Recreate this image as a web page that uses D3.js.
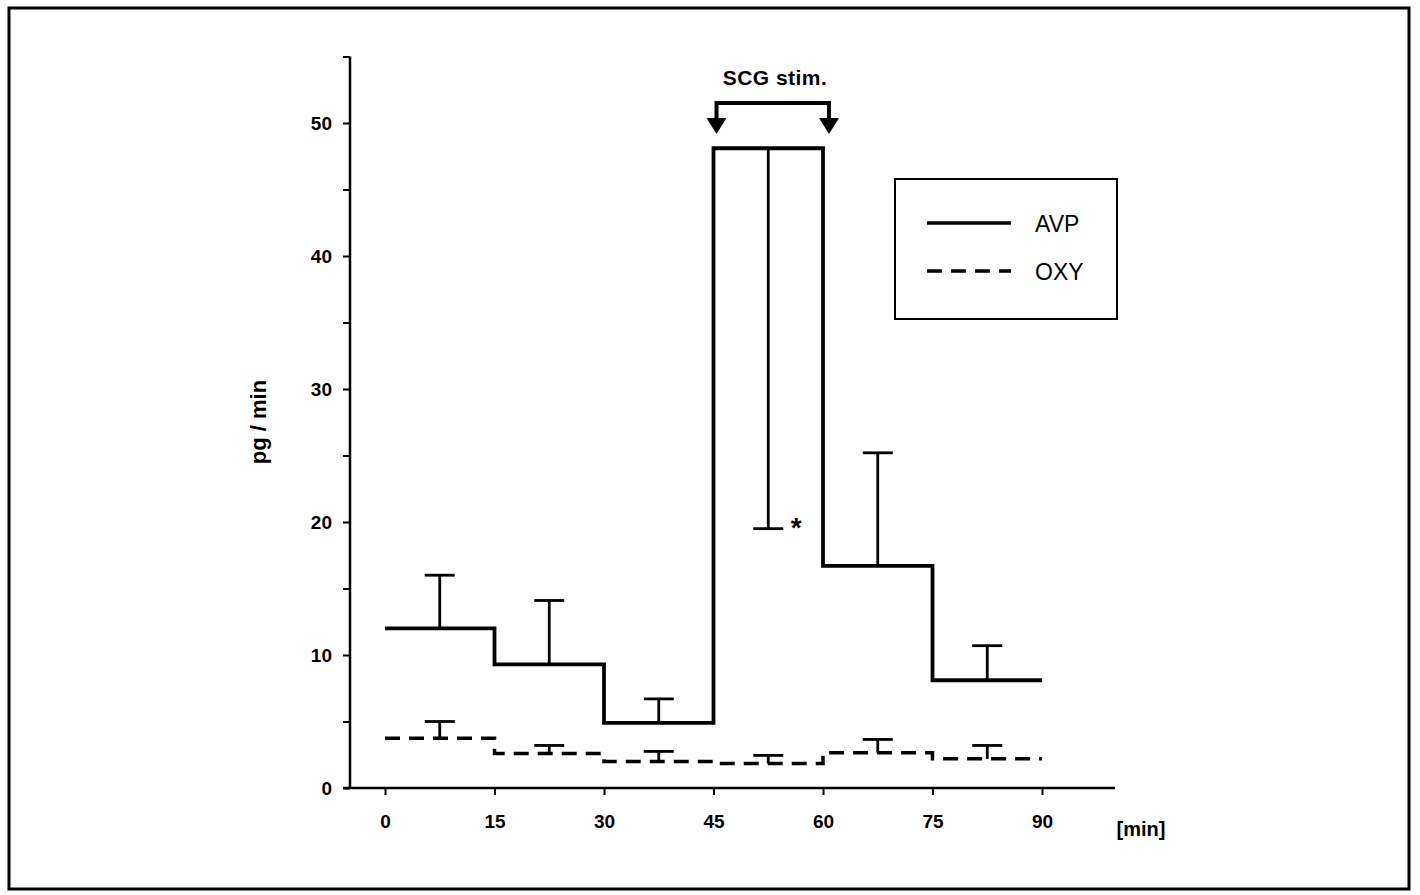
<!DOCTYPE html>
<meta charset="utf-8">
<head>
    <script src="https://d3js.org/d3.v7.min.js"></script>
    <style>
    body { margin: 0; background: #fff; }
    text { font-family: Arial, "Liberation Sans", sans-serif; fill: #000; }
    </style>
</head>
<body>
    <script>
    // interval starts (min) and the group means / errors
    var starts   = [0, 15, 30, 45, 60, 75];
    var avpMean  = [12.0, 9.3, 4.9, 48.1, 16.7, 8.1];
    var avpErr   = [16.0, 14.1, 6.7, 19.5, 25.2, 10.7];   // end of error bar
    var oxyMean  = [3.75, 2.6, 2.0, 1.85, 2.65, 2.2];
    var oxyErr   = [5.0, 3.2, 2.75, 2.45, 3.65, 3.2];
    var xTicks   = [0, 15, 30, 45, 60, 75, 90];
    var yTicks   = [0, 10, 20, 30, 40, 50];
    var yMinor   = [5, 15, 25, 35, 45, 55];

    var W = 1420, H = 895;
    var svg = d3.select("body").append("svg")
        .attr("width", W).attr("height", H);

    // outer frame
    svg.append("rect")
        .attr("x", 9).attr("y", 8).attr("width", 1400).attr("height", 881)
        .attr("fill", "none").attr("stroke", "#000").attr("stroke-width", 3);

    var x = d3.scaleLinear().domain([-5, 100]).range([348.5, 1115]);
    var y = d3.scaleLinear().domain([0, 55]).range([788, 56.5]);

    // y axis
    var yAxis = svg.append("g")
        .attr("transform", "translate(350,0)")
        .call(d3.axisLeft(y).tickValues(yTicks).tickSize(7).tickPadding(11));
    yAxis.selectAll("text")
        .style("font-size", "19px").style("font-weight", "bold")
        .attr("dy", "0.35em");
    svg.append("g")
        .attr("transform", "translate(350,0)")
        .call(d3.axisLeft(y).tickValues(yMinor).tickSize(7).tickFormat(""))
        .select(".domain").remove();
    yAxis.select(".domain").attr("d", "M0," + y(55) + "V" + y(0)).attr("stroke-width", 2.5);
    svg.selectAll(".tick line").attr("stroke-width", 2);

    // x axis
    var xAxis = svg.append("g")
        .attr("transform", "translate(0," + y(0) + ")")
        .call(d3.axisBottom(x).tickValues(xTicks).tickSize(7).tickPadding(20));
    xAxis.select(".domain").attr("d", "M343,0H" + x(100)).attr("stroke-width", 2.5);
    xAxis.selectAll("text")
        .style("font-size", "19px").style("font-weight", "bold");
    xAxis.selectAll(".tick line").attr("stroke-width", 2);

    // axis titles
    svg.append("text")
        .attr("transform", "translate(266," + 422 + ") rotate(-90)")
        .attr("text-anchor", "middle")
        .style("font-size", "22px").style("font-weight", "bold")
        .text("pg / min");
    svg.append("text")
        .attr("x", 1141).attr("y", 836)
        .attr("text-anchor", "middle")
        .style("font-size", "20px").style("font-weight", "bold")
        .text("[min]");

    // step lines
    function stepData(means) {
        var pts = starts.map(function(s, i) { return [s, means[i]]; });
        pts.push([90, means[means.length - 1]]);
        return pts;
    }
    var line = d3.line()
        .x(function(d) { return x(d[0]); })
        .y(function(d) { return y(d[1]); })
        .curve(d3.curveStepAfter);

    svg.append("path").datum(stepData(avpMean))
        .attr("d", line).attr("fill", "none")
        .attr("stroke", "#000").attr("stroke-width", 3.8);
    svg.append("path").datum(stepData(oxyMean))
        .attr("d", line).attr("fill", "none")
        .attr("stroke", "#000").attr("stroke-width", 3.5)
        .attr("stroke-dasharray", "15,9");

    // error bars
    function errorBars(means, ends) {
        var g = svg.append("g");
        starts.forEach(function(s, i) {
            var cx = x(s + 7.5);
            g.append("line")
                .attr("x1", cx).attr("x2", cx)
                .attr("y1", y(means[i])).attr("y2", y(ends[i]))
                .attr("stroke", "#000").attr("stroke-width", 2.8);
            g.append("line")
                .attr("x1", cx - 15).attr("x2", cx + 15)
                .attr("y1", y(ends[i])).attr("y2", y(ends[i]))
                .attr("stroke", "#000").attr("stroke-width", 2.8);
        });
    }
    errorBars(avpMean, avpErr);
    errorBars(oxyMean, oxyErr);

    // significance mark
    svg.append("text")
        .attr("x", x(52.5) + 28).attr("y", y(avpErr[3]) + 8)
        .attr("text-anchor", "middle")
        .style("font-size", "28px").style("font-weight", "bold")
        .text("*");

    // SCG stimulation bracket
    var bx1 = x(45) + 3, bx2 = x(60) + 6, by = 103;
    svg.append("path")
        .attr("d", "M" + bx1 + "," + 122 + "V" + by + "H" + bx2 + "V" + 122)
        .attr("fill", "none").attr("stroke", "#000").attr("stroke-width", 4);
    [bx1, bx2].forEach(function(bx) {
        svg.append("path")
            .attr("d", "M" + (bx - 10) + ",118L" + (bx + 10) + ",118L" + bx + ",134Z")
            .attr("fill", "#000");
    });
    svg.append("text")
        .attr("x", (bx1 + bx2) / 2 + 2).attr("y", 85)
        .attr("text-anchor", "middle")
        .style("font-size", "21px").style("font-weight", "bold")
        .attr("textLength", 104)
        .text("SCG stim.");

    // legend
    var leg = svg.append("g");
    leg.append("rect")
        .attr("x", 895).attr("y", 179).attr("width", 222).attr("height", 140)
        .attr("fill", "none").attr("stroke", "#000").attr("stroke-width", 2);
    [["AVP", null, 223], ["OXY", "15,9", 271]].forEach(function(d) {
        var l = leg.append("line")
            .attr("x1", 927).attr("x2", 1011).attr("y1", d[2]).attr("y2", d[2])
            .attr("stroke", "#000").attr("stroke-width", 3.5);
        if (d[1]) l.attr("stroke-dasharray", d[1]);
        leg.append("text")
            .attr("x", 1035).attr("y", d[2] + 9)
            .style("font-size", "23px")
            .text(d[0]);
    });
    </script>
</body>
</html>
